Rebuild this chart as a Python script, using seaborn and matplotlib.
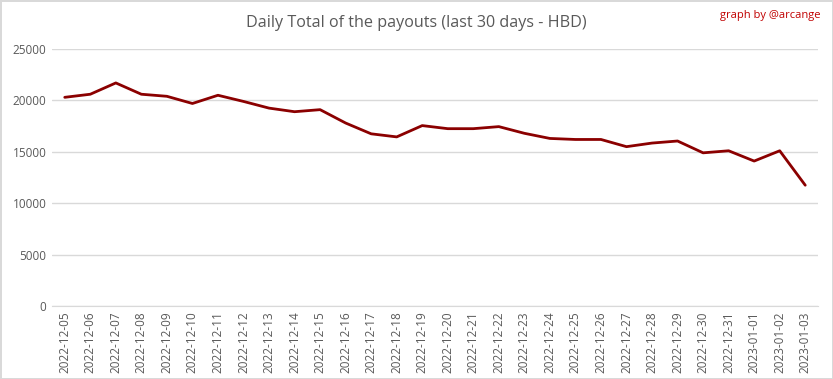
import matplotlib
matplotlib.use("Agg")
import matplotlib.pyplot as plt
import seaborn as sns
import pandas as pd

# dates and daily payout totals (HBD)
dates = ["2022-12-05", "2022-12-06", "2022-12-07", "2022-12-08", "2022-12-09",
         "2022-12-10", "2022-12-11", "2022-12-12", "2022-12-13", "2022-12-14",
         "2022-12-15", "2022-12-16", "2022-12-17", "2022-12-18", "2022-12-19",
         "2022-12-20", "2022-12-21", "2022-12-22", "2022-12-23", "2022-12-24",
         "2022-12-25", "2022-12-26", "2022-12-27", "2022-12-28", "2022-12-29",
         "2022-12-30", "2022-12-31", "2023-01-01", "2023-01-02", "2023-01-03"]
payouts = [20300, 20600, 21700, 20600, 20400, 19700, 20500, 19900, 19250, 18900,
           19100, 17800, 16750, 16450, 17550, 17250, 17250, 17450, 16800, 16300,
           16200, 16200, 15500, 15850, 16050, 14900, 15100, 14100, 15100, 11750]
y_ticks = [0, 5000, 10000, 15000, 20000, 25000]

sns.set_style("white")
plt.rcParams['font.family'] = ['Open Sans', 'DejaVu Sans']

df = pd.DataFrame({"date": dates, "payout": payouts})
df["pos"] = range(len(df))

fig = plt.figure(figsize=(8.33, 3.79), dpi=100, edgecolor="#d9d9d9", linewidth=2)
ax = fig.add_axes([0.0624, 0.1926, 0.9196, 0.6781])

sns.lineplot(data=df, x="pos", y="payout", ax=ax, color="#8b0000", linewidth=2)

ax.set_xlim(-0.5, len(dates) - 0.5)
ax.set_ylim(0, 25000)
ax.set_yticks(y_ticks)
ax.set_yticklabels([str(t) for t in y_ticks], fontsize=8.5, color="#595959")
ax.set_xticks(df["pos"])
ax.set_xticklabels(dates, rotation=90, fontsize=8.5, color="#595959")
ax.tick_params(axis="both", length=0, pad=4)
ax.grid(axis="y", color="#d9d9d9", linewidth=1)
ax.set_axisbelow(True)
for s in ["top", "right", "left"]:
    ax.spines[s].set_visible(False)
ax.spines["bottom"].set_color("#d9d9d9")
ax.set_xlabel("")
ax.set_ylabel("")

fig.text(0.5, 0.94, "Daily Total of the payouts (last 30 days - HBD)",
         ha="center", va="center", fontsize=11.6, color="#595959")
fig.text(0.985, 0.96, "graph by @arcange", ha="right", va="center",
         fontsize=8, color="#c00000")

fig.savefig("out.png", dpi=100)
